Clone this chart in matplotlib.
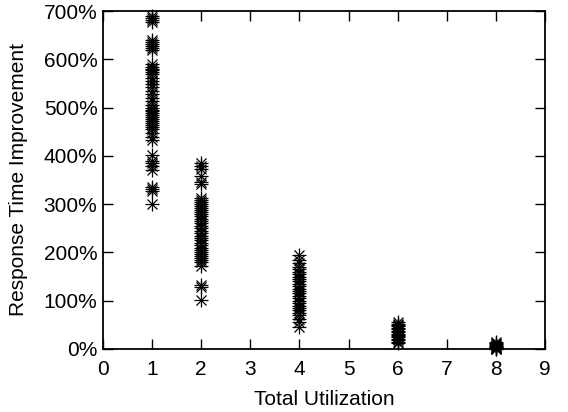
import matplotlib
matplotlib.use("Agg")
import matplotlib.pyplot as plt
from matplotlib.ticker import FuncFormatter, MultipleLocator

plt.rcParams['font.family'] = ['Liberation Sans', 'DejaVu Sans']

# Response time improvement (%) per total utilization
util_1 = [690, 686, 682, 678, 640, 636, 632, 628, 624, 620,
          590, 585, 580, 577, 574, 570, 562, 555, 548, 542,
          535, 528, 520, 513, 505, 500, 496, 492, 488, 484,
          480, 476, 472, 468, 464, 460, 455, 448, 440, 432,
          402, 390, 385, 380, 370, 335, 332, 328, 300]
util_2 = [385, 380, 372, 358, 345, 342, 312, 308, 304, 300,
          296, 292, 288, 284, 280, 275, 270, 265, 260, 255,
          250, 245, 240, 235, 230, 225, 220, 215, 210, 205,
          200, 196, 192, 188, 185, 180, 172, 132, 128, 102]
util_4 = [195, 185, 178, 170, 165, 160, 155, 150, 145, 140,
          135, 130, 125, 120, 115, 110, 105, 100, 95, 90,
          85, 80, 75, 70, 62, 55, 45]
util_6 = [55, 52, 50, 47, 44, 41, 38, 35, 32, 30, 27, 24, 21, 18, 15, 12]
util_8 = [15, 12, 10, 8, 6, 5, 4, 3, 2, 1, 0]

groups = {1: util_1, 2: util_2, 4: util_4, 6: util_6, 8: util_8}

fig = plt.figure(figsize=(5.68, 4.12), dpi=100)
ax = fig.add_axes([103 / 568, 63 / 412, 442 / 568, 338 / 412])

for u, vals in groups.items():
    xs = [u] * len(vals)
    # gnuplot style asterisk: plus overlaid with cross
    ax.plot(xs, vals, ls='none', marker='+', ms=10, mew=0.9, color='black', clip_on=False)
    ax.plot(xs, vals, ls='none', marker='x', ms=7.5, mew=0.9, color='black', clip_on=False)

ax.set_xlim(0, 9)
ax.set_ylim(0, 700)
ax.xaxis.set_major_locator(MultipleLocator(1))
ax.yaxis.set_major_locator(MultipleLocator(100))
ax.yaxis.set_major_formatter(FuncFormatter(lambda v, p: f"{v:.0f}%"))

ax.tick_params(direction='in', length=7, width=1, top=True, right=True,
               labelsize=15, colors='black')
ax.tick_params(axis='x', pad=8)
ax.tick_params(axis='y', pad=4)
for s in ax.spines.values():
    s.set_linewidth(1.3)

ax.set_xlabel('Total Utilization', fontsize=15, labelpad=8)
ax.set_ylabel('Response Time Improvement', fontsize=15, labelpad=11)

fig.savefig('out.png', dpi=100)
